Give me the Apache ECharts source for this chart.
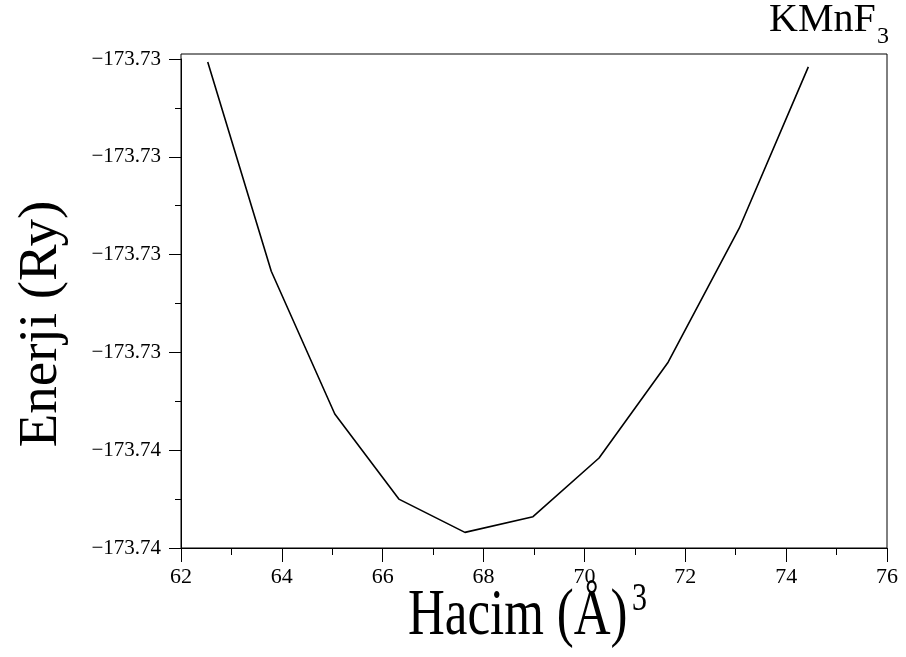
<!DOCTYPE html>
<html><head><meta charset="utf-8">
<script src="https://cdn.jsdelivr.net/npm/echarts@6/dist/echarts.min.js"></script>
<style>html,body{margin:0;padding:0;background:#fff}#c{width:906px;height:657px}</style>
</head><body><div id="c"></div>
<script>
const volumes = [62.53, 63.79, 65.05, 66.32, 67.63, 68.98, 70.29, 71.66, 73.07, 74.44];
const energies = [-173.73203, -173.73417, -173.73563, -173.73650, -173.73684, -173.73668, -173.73608, -173.73510, -173.73373, -173.73208];
const yTickLabels = ['\u2212173.74','\u2212173.74','\u2212173.73','\u2212173.73','\u2212173.73','\u2212173.73'];
const yMin = -173.737, yMax = -173.732, yStep = 0.001;
const xMin = 62, xMax = 76, xStep = 2;
const titleText = 'KMnF', titleSub = '3';
const xName = 'Hacim (Å)', xNameSup = '3';
const yName = 'Enerji (Ry)';

const FONT = '"Liberation Serif","DejaVu Serif",serif';
const chart = echarts.init(document.getElementById('c'), null, {renderer:'canvas'});
chart.setOption({
  animation:false,
  backgroundColor:'#fff',
  grid:{left:181, right:19, top:59, bottom:109, containLabel:false, outerBoundsMode:'none'},
  graphic:[
    {type:'rect', shape:{x:181, y:54, width:706, height:494}, style:{fill:'none', stroke:'#000', lineWidth:1}, z:10},
    {type:'text', x:769, y:20, style:{text:titleText, font:'40px '+FONT, fill:'#000', textAlign:'left', textVerticalAlign:'middle', verticalAlign:'middle'}},
    {type:'text', x:877, y:37, style:{text:titleSub, font:'24px '+FONT, fill:'#000', textAlign:'left', textVerticalAlign:'middle', verticalAlign:'middle'}},
    {type:'text', x:408, y:617, originX:0, originY:0, scaleY:1.28,
      style:{text:xName, font:'51px '+FONT, fill:'#000', textAlign:'left', textVerticalAlign:'middle', verticalAlign:'middle'}},
    {type:'text', x:632, y:600, originX:0, originY:0, scaleY:1.3,
      style:{text:xNameSup, font:'30px '+FONT, fill:'#000', textAlign:'left', textVerticalAlign:'middle', verticalAlign:'middle'}},
    {type:'text', x:42, y:324, rotation:Math.PI/2,
      style:{text:yName, font:'55px '+FONT, fill:'#000', textAlign:'center', textVerticalAlign:'middle', verticalAlign:'middle'}}
  ],
  xAxis:{
    type:'value', min:xMin, max:xMax, interval:xStep,
    axisLine:{show:true, lineStyle:{color:'#000'}},
    axisTick:{show:true, length:14, lineStyle:{color:'#000'}},
    minorTick:{show:true, splitNumber:2, length:7, lineStyle:{color:'#000'}},
    splitLine:{show:false},
    axisLabel:{fontFamily:FONT, fontSize:22, color:'#000', margin:18}
  },
  yAxis:{
    type:'value', min:yMin, max:yMax, interval:yStep,
    axisLine:{show:true, lineStyle:{color:'#000'}},
    axisTick:{show:true, length:12, lineStyle:{color:'#000'}},
    minorTick:{show:true, splitNumber:2, length:6, lineStyle:{color:'#000'}},
    splitLine:{show:false},
    axisLabel:{fontFamily:FONT, fontSize:21, color:'#000', margin:20,
      formatter:(v,i)=>yTickLabels[i]}
  },
  series:[{
    type:'line', data:volumes.map((v,i)=>[v, energies[i]]),
    showSymbol:false, symbol:'none',
    lineStyle:{color:'#000', width:1.6}
  }]
});
</script></body></html>
